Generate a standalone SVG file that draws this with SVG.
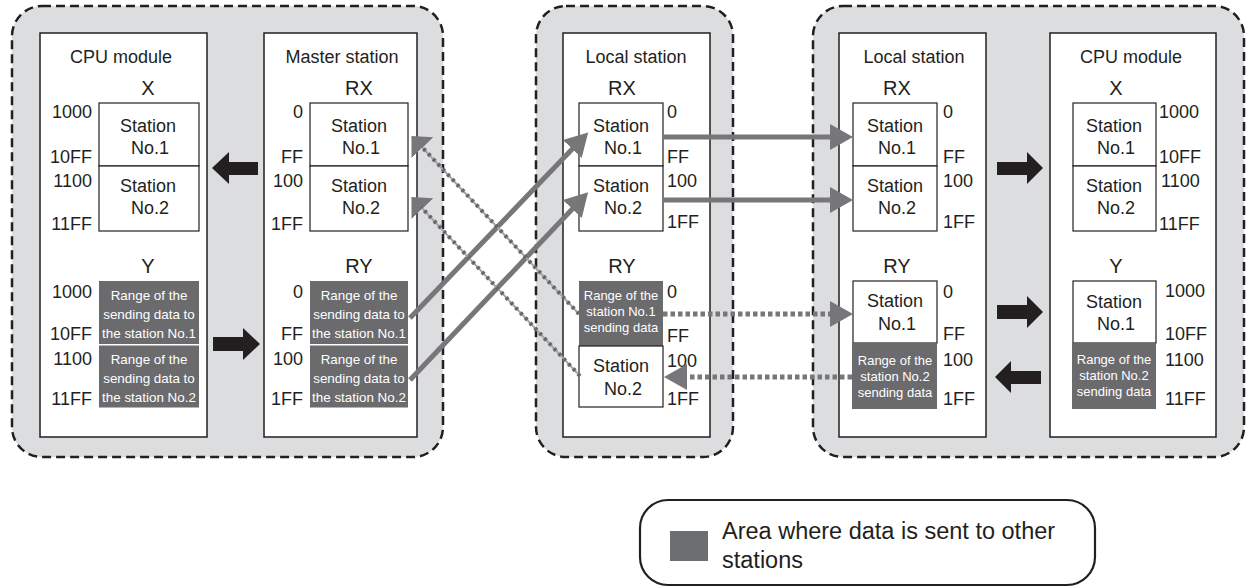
<svg xmlns="http://www.w3.org/2000/svg" width="1246" height="587" viewBox="0 0 1246 587">
<style>
text{font-family:"Liberation Sans",Arial,sans-serif;fill:#231f20}
.grp{fill:#dcdddf;stroke:#231f20;stroke-width:2.5;stroke-dasharray:9 5}
.box{fill:#fff;stroke:#231f20;stroke-width:1.5}
.sub{fill:#fff;stroke:#231f20;stroke-width:1.2}
.dk{fill:#6b6b6e;stroke:none}
.t18{font-size:18px}
.t20{font-size:20px}
.mid{text-anchor:middle}
.end{text-anchor:end}
.w{fill:#fff;font-size:13.4px;text-anchor:middle}
.w13{fill:#fff;font-size:13px;text-anchor:middle}
.blk{fill:#231f20}
.sol{stroke:#777779;stroke-width:5;fill:none}
.dot{stroke:#77777a;stroke-width:5;fill:none;stroke-dasharray:4.5 3}
.dbase{stroke:#a5a5a8;stroke-width:2;fill:none}
.dtop{stroke:#68686b;stroke-width:4;fill:none;stroke-dasharray:3 4}
</style>
<defs>
<marker id="ah" markerUnits="userSpaceOnUse" markerWidth="24" markerHeight="28" viewBox="0 0 24 28" refX="9" refY="14" orient="auto">
<path d="M0,1 L23,14 L0,27 z" fill="#777779"/>
</marker>
<marker id="ahs" markerUnits="userSpaceOnUse" markerWidth="18" markerHeight="32" viewBox="0 0 18 32" refX="5" refY="16" orient="auto">
<path d="M0,1 L16,16 L0,31 z" fill="#777779"/>
</marker>
</defs>

<g id="group-left">
<rect class="grp" x="12" y="6" width="431" height="451" rx="30"/>
</g>
<g id="group-middle">
<rect class="grp" x="536" y="6" width="197" height="451" rx="30"/>
</g>
<g id="group-right">
<rect class="grp" x="813" y="6" width="431" height="451" rx="30"/>
</g>

<g id="cpu-left">
<rect class="box" x="40" y="33" width="167" height="404"/>
<text class="t18 mid" x="121" y="63">CPU module</text>
<text class="t20 mid" x="148" y="95">X</text>
<rect class="sub" x="99" y="103" width="100" height="63"/>
<rect class="sub" x="99" y="166" width="100" height="65"/>
<text class="t18 mid" x="148" y="132">Station</text>
<text class="t18 mid" x="150" y="154">No.1</text>
<text class="t18 mid" x="148" y="192">Station</text>
<text class="t18 mid" x="150" y="214">No.2</text>
<text class="t18 end" x="92" y="118">1000</text>
<text class="t18 end" x="92" y="163">10FF</text>
<text class="t18 end" x="92" y="187">1100</text>
<text class="t18 end" x="92" y="230">11FF</text>
<text class="t20 mid" x="148" y="273">Y</text>
<rect class="dk" x="99" y="281" width="100" height="63"/>
<rect class="dk" x="99" y="345.5" width="100" height="62"/>
<text class="w" x="149" y="300">Range of the</text>
<text class="w" x="149" y="319">sending data to</text>
<text class="w" x="149" y="338">the station No.1</text>
<text class="w" x="149" y="364">Range of the</text>
<text class="w" x="149" y="383">sending data to</text>
<text class="w" x="149" y="402">the station No.2</text>
<text class="t18 end" x="92" y="298">1000</text>
<text class="t18 end" x="92" y="340">10FF</text>
<text class="t18 end" x="92" y="365">1100</text>
<text class="t18 end" x="92" y="405">11FF</text>
</g>

<g id="master">
<rect class="box" x="264" y="33" width="153" height="404"/>
<text class="t18 mid" x="342" y="63">Master station</text>
<text class="t20 mid" x="359" y="95">RX</text>
<rect class="sub" x="310" y="103" width="98" height="63"/>
<rect class="sub" x="310" y="166" width="98" height="65"/>
<text class="t18 mid" x="359" y="132">Station</text>
<text class="t18 mid" x="361" y="154">No.1</text>
<text class="t18 mid" x="359" y="192">Station</text>
<text class="t18 mid" x="361" y="214">No.2</text>
<text class="t18 end" x="303" y="118">0</text>
<text class="t18 end" x="303" y="163">FF</text>
<text class="t18 end" x="303" y="187">100</text>
<text class="t18 end" x="303" y="230">1FF</text>
<text class="t20 mid" x="359" y="273">RY</text>
<rect class="dk" x="310" y="281" width="98" height="63"/>
<rect class="dk" x="310" y="345.5" width="98" height="62"/>
<text class="w" x="359" y="300">Range of the</text>
<text class="w" x="359" y="319">sending data to</text>
<text class="w" x="359" y="338">the station No.1</text>
<text class="w" x="359" y="364">Range of the</text>
<text class="w" x="359" y="383">sending data to</text>
<text class="w" x="359" y="402">the station No.2</text>
<text class="t18 end" x="303" y="298">0</text>
<text class="t18 end" x="303" y="340">FF</text>
<text class="t18 end" x="303" y="365">100</text>
<text class="t18 end" x="303" y="405">1FF</text>
</g>

<g id="local-middle">
<rect class="box" x="563" y="33" width="147" height="404"/>
<text class="t18 mid" x="636" y="63">Local station</text>
<text class="t20 mid" x="622" y="95">RX</text>
<rect class="sub" x="579" y="103" width="84" height="63"/>
<rect class="sub" x="579" y="166" width="84" height="65"/>
<text class="t18 mid" x="621" y="132">Station</text>
<text class="t18 mid" x="623" y="154">No.1</text>
<text class="t18 mid" x="621" y="192">Station</text>
<text class="t18 mid" x="623" y="214">No.2</text>
<text class="t18" x="667" y="118">0</text>
<text class="t18" x="667" y="163">FF</text>
<text class="t18" x="667" y="187">100</text>
<text class="t18" x="667" y="228">1FF</text>
<text class="t20 mid" x="622" y="273">RY</text>
<rect class="dk" x="579" y="281" width="84" height="65"/>
<rect class="sub" x="579" y="346" width="84" height="61"/>
<text class="w13" x="621" y="300">Range of the</text>
<text class="w13" x="621" y="316">station No.1</text>
<text class="w13" x="621" y="332">sending data</text>
<text class="t18 mid" x="621" y="372">Station</text>
<text class="t18 mid" x="623" y="395">No.2</text>
<text class="t18" x="667" y="298">0</text>
<text class="t18" x="667" y="342">FF</text>
<text class="t18" x="667" y="367">100</text>
<text class="t18" x="667" y="405">1FF</text>
</g>

<g id="local-right">
<rect class="box" x="839" y="33" width="147" height="404"/>
<text class="t18 mid" x="914" y="63">Local station</text>
<text class="t20 mid" x="897" y="95">RX</text>
<rect class="sub" x="853" y="103" width="84" height="63"/>
<rect class="sub" x="853" y="166" width="84" height="65"/>
<text class="t18 mid" x="895" y="132">Station</text>
<text class="t18 mid" x="897" y="154">No.1</text>
<text class="t18 mid" x="895" y="192">Station</text>
<text class="t18 mid" x="897" y="214">No.2</text>
<text class="t18" x="943" y="118">0</text>
<text class="t18" x="943" y="163">FF</text>
<text class="t18" x="943" y="187">100</text>
<text class="t18" x="943" y="228">1FF</text>
<text class="t20 mid" x="897" y="273">RY</text>
<rect class="sub" x="853" y="281" width="84" height="62"/>
<rect class="dk" x="852" y="343" width="85" height="66"/>
<text class="t18 mid" x="895" y="307">Station</text>
<text class="t18 mid" x="897" y="330">No.1</text>
<text class="w13" x="895" y="365">Range of the</text>
<text class="w13" x="895" y="381">station No.2</text>
<text class="w13" x="895" y="397">sending data</text>
<text class="t18" x="943" y="298">0</text>
<text class="t18" x="943" y="340">FF</text>
<text class="t18" x="943" y="366">100</text>
<text class="t18" x="943" y="405">1FF</text>
</g>

<g id="cpu-right">
<rect class="box" x="1050" y="33" width="166" height="404"/>
<text class="t18 mid" x="1131" y="63">CPU module</text>
<text class="t20 mid" x="1116" y="95">X</text>
<rect class="sub" x="1073" y="103" width="83" height="63"/>
<rect class="sub" x="1073" y="166" width="83" height="65"/>
<text class="t18 mid" x="1114" y="132">Station</text>
<text class="t18 mid" x="1116" y="154">No.1</text>
<text class="t18 mid" x="1114" y="192">Station</text>
<text class="t18 mid" x="1116" y="214">No.2</text>
<text class="t18" x="1159" y="118">1000</text>
<text class="t18" x="1159" y="163">10FF</text>
<text class="t18" x="1161" y="187">1100</text>
<text class="t18" x="1159" y="230">11FF</text>
<text class="t20 mid" x="1116" y="273">Y</text>
<rect class="sub" x="1073" y="281" width="83" height="62"/>
<rect class="dk" x="1072" y="343" width="84" height="66"/>
<text class="t18 mid" x="1114" y="308">Station</text>
<text class="t18 mid" x="1116" y="330">No.1</text>
<text class="w13" x="1114" y="364">Range of the</text>
<text class="w13" x="1114" y="380">station No.2</text>
<text class="w13" x="1114" y="396">sending data</text>
<text class="t18" x="1165" y="297">1000</text>
<text class="t18" x="1165" y="340">10FF</text>
<text class="t18" x="1165" y="366">1100</text>
<text class="t18" x="1165" y="405">11FF</text>
</g>

<g id="connectors">
<polygon class="blk" points="212,168 229,152 229,162 258,162 258,175 229,175 229,184"/>
<polygon class="blk" points="260,344 243,328 243,337 213,337 213,351 243,351 243,360"/>
<polygon class="blk" points="1043,168 1027,152 1027,162 997,162 997,175 1027,175 1027,184"/>
<polygon class="blk" points="1043,312 1027,296 1027,305 997,305 997,319 1027,319 1027,328"/>
<polygon class="blk" points="995,377 1011,361 1011,371 1041,371 1041,384 1011,384 1011,393"/>

<path class="sol" d="M410,318 L578.5,142.5" marker-end="url(#ah)"/>
<path class="sol" d="M410,380 L578.5,202.5" marker-end="url(#ah)"/>
<path class="sol" d="M663,137 H839" marker-end="url(#ah)"/>
<path class="sol" d="M663,200 H839" marker-end="url(#ah)"/>

<path class="dot" d="M663,314 H839" marker-end="url(#ah)"/>
<path class="dot" d="M852,377 H678" marker-end="url(#ah)"/>

<path class="dbase" d="M579,314 L419,144" marker-end="url(#ahs)"/>
<path class="dtop" d="M579,314 L421,146"/>
<path class="dbase" d="M580,376 L419,205" marker-end="url(#ahs)"/>
<path class="dtop" d="M580,376 L421,207"/>
</g>

<g id="legend">
<rect x="640" y="500" width="455" height="85" rx="28" fill="#fff" stroke="#231f20" stroke-width="2.2"/>
<rect x="670" y="531" width="38" height="30" fill="#6d6e71"/>
<text x="722" y="539" style="font-size:23.5px">Area where data is sent to other</text>
<text x="722" y="568" style="font-size:23.5px">stations</text>
</g>
</svg>
